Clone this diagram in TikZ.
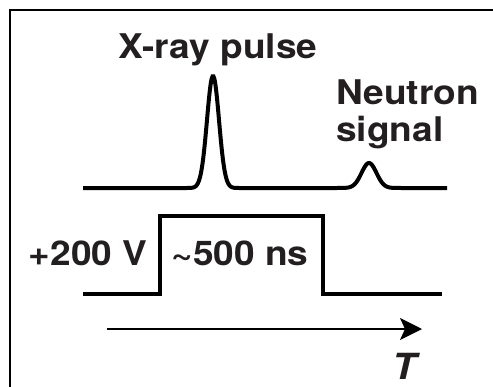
\documentclass[tikz,border=0pt]{standalone}
\usepackage{fontspec}
\setmainfont{TeX Gyre Heros}[FakeStretch=1.09]
\usepackage{tikz}
\usetikzlibrary{positioning, arrows.meta}

\definecolor{inkgray}{HTML}{231F20}

\tikzset{
    label text/.style={
        font=\fontsize{34}{37}\selectfont\bfseries,
        text=inkgray,
        inner sep=0pt
    },
    trace/.style={line width=4pt, line join=miter}
}

\begin{document}
\begin{tikzpicture}[x=1pt, y=-1pt]
    \useasboundingbox (0,0) rectangle (493,386);
    \clip (0,0) rectangle (493,386);

    % frame, cut off on the right and at the bottom
    \draw[line width=2pt] (10,400) -- (10,10) -- (500,10);

    % detector signal
    \draw[trace] plot[domain=83:447, samples=400, smooth]
        (\x, {188 - 112*exp(-((\x-213)/8.5)^2) - 25*exp(-((\x-369)/10.5)^2)});

    % gate pulse
    \coordinate (lowA) at (83,294);
    \coordinate (riseA) at (160,294);
    \coordinate (riseB) at (160,216);
    \coordinate (fallA) at (323,216);
    \coordinate (fallB) at (323,294);
    \coordinate (lowB) at (442,294);
    \draw[trace] (lowA) -- (riseA) -- (riseB) -- (fallA) -- (fallB) -- (lowB);

    % time axis
    \coordinate (tstart) at (107,329);
    \coordinate (tend) at (422,329);
    \draw[line width=1.5pt, -{Stealth[length=22pt, width=22pt, inset=5pt]}] (tstart) -- (tend);

    \node[label text, anchor=base] (xray) at (218,58) {X-ray pulse};
    \node[label text, anchor=north west, align=left] (neutron) at (336,80) {Neutron\\signal};
    \node[label text, anchor=base] (volt) at (88,265) {+200 V};
    \node[label text, anchor=base] (width) at (240,265) {\textasciitilde500 ns};
    \node[label text, anchor=base, font=\fontsize{36}{37}\selectfont\bfseries\itshape] (time) at (404,379) {T};
\end{tikzpicture}
\end{document}
